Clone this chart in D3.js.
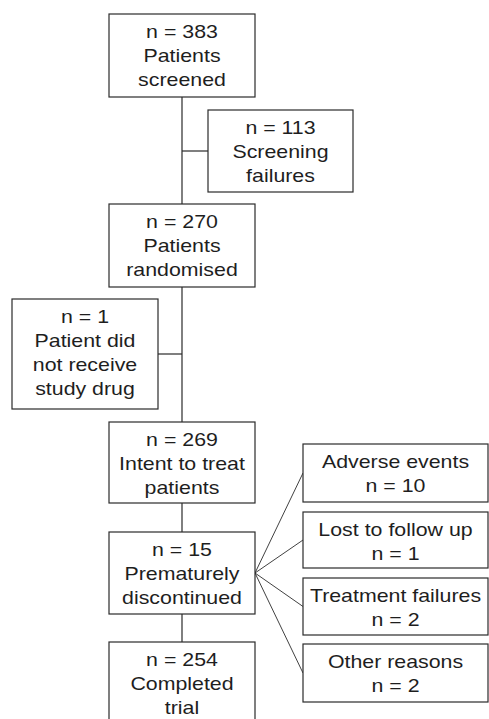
<!DOCTYPE html>
<html>
<head>
<meta charset="utf-8">
<script src="https://cdn.jsdelivr.net/npm/d3@7"></script>
<style>
  body { margin: 0; background: #fff; }
  svg { display: block; }
</style>
</head>
<body>
<svg id="flow" width="489" height="719"></svg>
<script>
// Flow data: counts and label text for every stage
const stageIds = ["screened", "failures", "randomised", "noDrug", "itt", "discont", "completed"];
const stageCounts = [383, 113, 270, 1, 269, 15, 254];
const stageLabels = [
  ["Patients", "screened"],
  ["Screening", "failures"],
  ["Patients", "randomised"],
  ["Patient did", "not receive", "study drug"],
  ["Intent to treat", "patients"],
  ["Prematurely", "discontinued"],
  ["Completed", "trial"]
];
const reasonLabels = ["Adverse events", "Lost to follow up", "Treatment failures", "Other reasons"];
const reasonCounts = [10, 1, 2, 2];

const svg = d3.select("#flow");
const ink = "#2b2b2b";
const lineH = 24;

// Box layout (x0, x1, y0, y1)
const layout = {
  screened:   [109, 255, 14, 97],
  failures:   [208, 353, 110, 192],
  randomised: [109, 255, 204, 287],
  noDrug:     [12, 158, 299, 409],
  itt:        [109, 255, 422, 503],
  discont:    [109, 255, 532, 614],
  completed:  [109, 255, 642, 740]
};
const reasonX = [303, 488];
const reasonY = [[444, 502], [512, 568], [578, 635], [644, 702]];

function drawBox(x0, x1, y0, y1, lines) {
  const g = svg.append("g");
  g.append("rect")
    .attr("x", x0).attr("y", y0)
    .attr("width", x1 - x0).attr("height", y1 - y0)
    .attr("fill", "#fff")
    .attr("stroke", ink)
    .attr("stroke-width", 1.2);
  const cx = (x0 + x1) / 2;
  lines.forEach((t, i) => {
    g.append("g")
      .attr("transform", `translate(${cx},${y0 + 24 + i * lineH}) scale(1.22,1)`)
      .append("text")
      .attr("text-anchor", "middle")
      .attr("font-family", "'Liberation Sans', Arial, sans-serif")
      .attr("font-size", 17.5)
      .attr("fill", "#1e1e1e")
      .text(t);
  });
}

// Connectors
const lines = svg.append("g")
  .attr("stroke", ink)
  .attr("stroke-width", 1.2)
  .attr("fill", "none");
const cxMain = (layout.screened[0] + layout.screened[1]) / 2;
lines.append("line").attr("x1", cxMain).attr("x2", cxMain)
  .attr("y1", layout.screened[3]).attr("y2", layout.randomised[2]);
lines.append("line").attr("x1", cxMain).attr("x2", layout.failures[0])
  .attr("y1", 151).attr("y2", 151);
lines.append("line").attr("x1", cxMain).attr("x2", cxMain)
  .attr("y1", layout.randomised[3]).attr("y2", layout.itt[2]);
lines.append("line").attr("x1", layout.noDrug[1]).attr("x2", cxMain)
  .attr("y1", 354).attr("y2", 354);
lines.append("line").attr("x1", cxMain).attr("x2", cxMain)
  .attr("y1", layout.itt[3]).attr("y2", layout.discont[2]);
lines.append("line").attr("x1", cxMain).attr("x2", cxMain)
  .attr("y1", layout.discont[3]).attr("y2", layout.completed[2]);

// Fan to reasons
const fanX = layout.discont[1];
const fanY = (layout.discont[2] + layout.discont[3]) / 2;
reasonY.forEach(([a, b]) => {
  lines.append("line")
    .attr("x1", fanX).attr("y1", fanY)
    .attr("x2", reasonX[0]).attr("y2", (a + b) / 2)
    .attr("stroke-width", 0.9);
});

// Boxes
stageIds.forEach((id, i) => {
  const [x0, x1, y0, y1] = layout[id];
  drawBox(x0, x1, y0, y1, [`n = ${stageCounts[i]}`, ...stageLabels[i]]);
});
reasonLabels.forEach((r, i) => {
  drawBox(reasonX[0], reasonX[1], reasonY[i][0], reasonY[i][1], [r, `n = ${reasonCounts[i]}`]);
});
</script>
</body>
</html>
